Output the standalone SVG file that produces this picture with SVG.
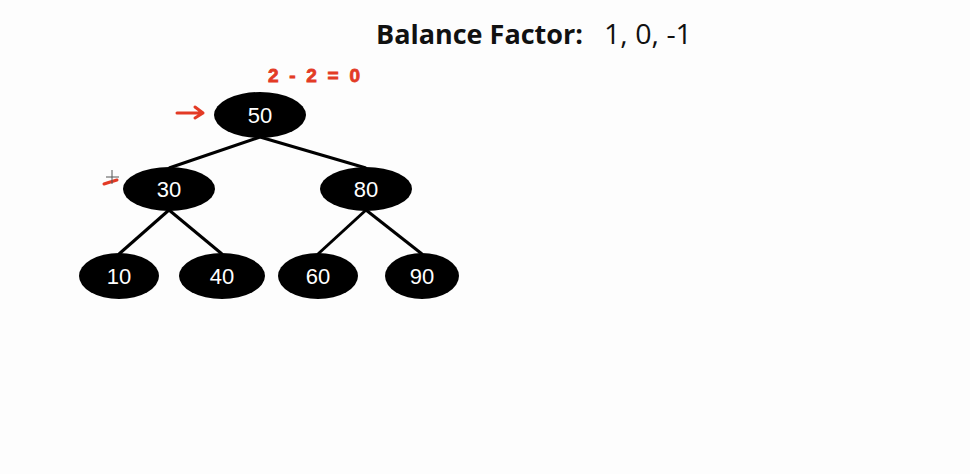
<svg xmlns="http://www.w3.org/2000/svg" width="970" height="474" viewBox="0 0 970 474">
<style>
.node ellipse{fill:#000}
.node text{fill:#fff;font-family:"Liberation Sans",Arial,sans-serif;font-size:22px;text-anchor:middle}
.edge{stroke:#000;stroke-width:3;fill:none}
.red{fill:none;stroke:#e33a25;stroke-width:3;stroke-linecap:round;stroke-linejoin:round}
</style>
<rect width="970" height="474" fill="#fdfdfd"/>
<g id="title" font-family="'Open Sans','Noto Sans',sans-serif" font-size="27">
<text x="376" y="44" font-weight="bold" fill="#111">Balance Factor:</text>
<text x="604" y="44" fill="#111" textLength="88" lengthAdjust="spacingAndGlyphs">1, 0, -1</text>
</g>
<g id="annotations">
<text x="268" y="82" font-family="'Liberation Sans',sans-serif" font-size="19" font-weight="bold" fill="#e33a25" stroke="#e33a25" stroke-width="0.8" textLength="92" lengthAdjust="spacing">2-2=0</text>
<path class="red" d="M177 113 L203 113 M195 107 L203 113 L195 118"/>
<path d="M104 184 Q110 182 117 180" stroke="#e33a25" stroke-width="3" fill="none" stroke-linecap="round"/>
<path d="M106 177 H119 M112 170 V184" stroke="#555" stroke-width="1" fill="none"/>
</g>
<g id="connectors">
<line class="edge" x1="260" y1="137" x2="169" y2="168"/>
<line class="edge" x1="260" y1="137" x2="366" y2="168"/>
<line class="edge" x1="169" y1="210" x2="119" y2="254"/>
<line class="edge" x1="169" y1="210" x2="222" y2="254"/>
<line class="edge" x1="366" y1="210" x2="318" y2="254"/>
<line class="edge" x1="366" y1="210" x2="422" y2="254"/>
</g>
<g id="n50" class="node"><ellipse cx="260" cy="115" rx="46" ry="23"/><text x="260" y="123">50</text></g>
<g id="n30" class="node"><ellipse cx="169" cy="189" rx="46" ry="22"/><text x="169" y="197">30</text></g>
<g id="n80" class="node"><ellipse cx="366" cy="189" rx="46" ry="22"/><text x="366" y="197">80</text></g>
<g id="n10" class="node"><ellipse cx="119" cy="276" rx="40" ry="23"/><text x="119" y="284">10</text></g>
<g id="n40" class="node"><ellipse cx="222" cy="276" rx="43" ry="23"/><text x="222" y="284">40</text></g>
<g id="n60" class="node"><ellipse cx="318" cy="276" rx="40" ry="23"/><text x="318" y="284">60</text></g>
<g id="n90" class="node"><ellipse cx="422" cy="276" rx="37" ry="23"/><text x="422" y="284">90</text></g>
</svg>
